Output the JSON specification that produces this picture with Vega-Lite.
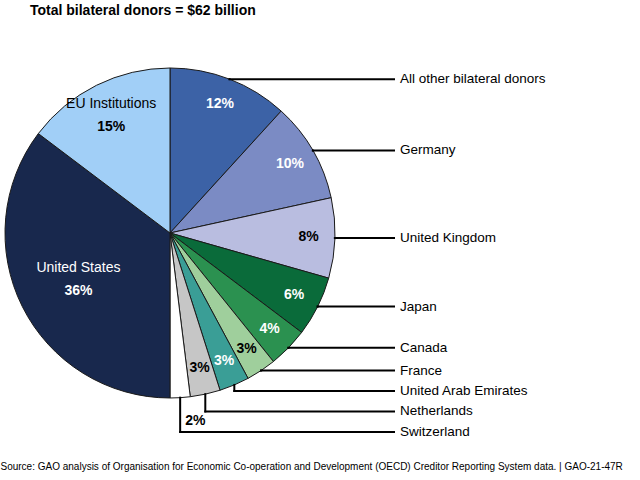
{
  "$schema": "https://vega.github.io/schema/vega-lite/v6.json",
  "width": 640,
  "height": 432,
  "padding": {"left": 0, "right": 0, "top": 4, "bottom": 2},
  "background": "white",
  "title": {
    "text": "Total bilateral donors = $62 billion",
    "anchor": "start",
    "dx": 30,
    "fontSize": 14,
    "fontWeight": "bold",
    "font": "Liberation Sans, Arial, sans-serif",
    "color": "black",
    "offset": 5
  },
  "data": {
    "values": [
      {"order": 1, "donor": "All other bilateral donors", "pct": 12},
      {"order": 2, "donor": "Germany", "pct": 10},
      {"order": 3, "donor": "United Kingdom", "pct": 8},
      {"order": 4, "donor": "Japan", "pct": 6},
      {"order": 5, "donor": "Canada", "pct": 4},
      {"order": 6, "donor": "France", "pct": 3},
      {"order": 7, "donor": "United Arab Emirates", "pct": 3},
      {"order": 8, "donor": "Netherlands", "pct": 3},
      {"order": 9, "donor": "Switzerland", "pct": 2},
      {"order": 10, "donor": "United States", "pct": 36},
      {"order": 11, "donor": "EU Institutions", "pct": 15}
    ]
  },
  "transform": [
    {"joinaggregate": [{"op": "sum", "field": "pct", "as": "total"}]},
    {"window": [{"op": "sum", "field": "pct", "as": "cum"}], "sort": [{"field": "order"}], "frame": [null, 0]},
    {"calculate": "2*PI*(datum.cum - datum.pct)/datum.total", "as": "a0"},
    {"calculate": "2*PI*datum.cum/datum.total", "as": "a1"},
    {"calculate": "(datum.a0 + datum.a1)/2", "as": "am"},
    {"calculate": "sin(datum.am)", "as": "ex"},
    {"calculate": "cos(datum.am)", "as": "ey"},
    {"calculate": "datum.pct + '%'", "as": "pl"}
  ],
  "layer": [
    {
      "mark": {"type": "arc", "outerRadius": 165, "stroke": "#1a1a1a", "strokeWidth": 1},
      "encoding": {
        "theta": {"field": "a0", "type": "quantitative", "scale": null},
        "theta2": {"field": "a1"},
        "x": {
          "datum": 0, "type": "quantitative",
          "scale": {"domain": [-1.030303, 2.848485], "nice": false, "zero": false},
          "axis": {"title": "Source: GAO analysis of Organisation for Economic Co-operation and Development (OECD) Creditor Reporting System data. | GAO-21-47R", "titleAnchor": "start", "titleAlign": "left", "titleFontWeight": "normal", "titleFontSize": 10, "titleFont": "Liberation Sans, Arial, sans-serif", "titleColor": "black", "titlePadding": 6, "labels": false, "ticks": false, "domain": false, "grid": false}
        },
        "y": {
          "datum": 0, "type": "quantitative",
          "scale": {"domain": [-1.345455, 1.272727], "nice": false, "zero": false},
          "axis": null
        },
        "color": {
          "field": "donor", "type": "nominal", "legend": null,
          "scale": {
            "domain": ["All other bilateral donors", "Germany", "United Kingdom", "Japan", "Canada", "France", "United Arab Emirates", "Netherlands", "Switzerland", "United States", "EU Institutions"],
            "range": ["#3c62a6", "#7b8bc4", "#b9bde0", "#0a6b3a", "#2b9150", "#9fcf9c", "#3a9e96", "#c6c6c6", "#ffffff", "#18284d", "#a1cff7"]
          }
        }
      }
    },
    {
      "transform": [
        {"filter": "datum.am < PI && datum.pct >= 2.5"},
        {"calculate": "0.84*sin(datum.am)", "as": "tx"},
        {"calculate": "0.84*cos(datum.am)", "as": "ty"}
      ],
      "mark": {"type": "text", "fontSize": 14, "fontWeight": "bold", "font": "Liberation Sans, Arial, sans-serif", "align": "center", "baseline": "middle"},
      "encoding": {
        "x": {"field": "tx", "type": "quantitative", "scale": {"domain": [-1.030303, 2.848485], "nice": false, "zero": false}, "axis": {"title": "Source: GAO analysis of Organisation for Economic Co-operation and Development (OECD) Creditor Reporting System data. | GAO-21-47R", "titleAnchor": "start", "titleAlign": "left", "titleFontWeight": "normal", "titleFontSize": 10, "titleFont": "Liberation Sans, Arial, sans-serif", "titleColor": "black", "titlePadding": 6, "labels": false, "ticks": false, "domain": false, "grid": false}},
        "y": {"field": "ty", "type": "quantitative", "scale": {"domain": [-1.345455, 1.272727], "nice": false, "zero": false}, "axis": null},
        "text": {"field": "pl"},
        "color": {"condition": {"test": "indexof(['United Kingdom','France','Netherlands','Switzerland','EU Institutions'], datum.donor) >= 0", "value": "black"}, "value": "white"}
      }
    },
    {
      "transform": [
        {"filter": "datum.am > PI"},
        {"calculate": "datum.pct > 30 ? 0.62 : 0.8", "as": "r"},
        {"calculate": "datum.r*sin(datum.am)", "as": "tx"},
        {"calculate": "datum.r*cos(datum.am)", "as": "ty"}
      ],
      "layer": [
        {
          "mark": {"type": "text", "fontSize": 14, "font": "Liberation Sans, Arial, sans-serif", "align": "center", "baseline": "middle", "dy": -11},
          "encoding": {
            "x": {"field": "tx", "type": "quantitative", "scale": {"domain": [-1.030303, 2.848485], "nice": false, "zero": false}, "axis": {"title": "Source: GAO analysis of Organisation for Economic Co-operation and Development (OECD) Creditor Reporting System data. | GAO-21-47R", "titleAnchor": "start", "titleAlign": "left", "titleFontWeight": "normal", "titleFontSize": 10, "titleFont": "Liberation Sans, Arial, sans-serif", "titleColor": "black", "titlePadding": 6, "labels": false, "ticks": false, "domain": false, "grid": false}},
            "y": {"field": "ty", "type": "quantitative", "scale": {"domain": [-1.345455, 1.272727], "nice": false, "zero": false}, "axis": null},
            "text": {"field": "donor"},
            "color": {"condition": {"test": "indexof(['United Kingdom','France','Netherlands','Switzerland','EU Institutions'], datum.donor) >= 0", "value": "black"}, "value": "white"}
          }
        },
        {
          "mark": {"type": "text", "fontSize": 14, "fontWeight": "bold", "font": "Liberation Sans, Arial, sans-serif", "align": "center", "baseline": "middle", "dy": 12},
          "encoding": {
            "x": {"field": "tx", "type": "quantitative", "scale": {"domain": [-1.030303, 2.848485], "nice": false, "zero": false}, "axis": {"title": "Source: GAO analysis of Organisation for Economic Co-operation and Development (OECD) Creditor Reporting System data. | GAO-21-47R", "titleAnchor": "start", "titleAlign": "left", "titleFontWeight": "normal", "titleFontSize": 10, "titleFont": "Liberation Sans, Arial, sans-serif", "titleColor": "black", "titlePadding": 6, "labels": false, "ticks": false, "domain": false, "grid": false}},
            "y": {"field": "ty", "type": "quantitative", "scale": {"domain": [-1.345455, 1.272727], "nice": false, "zero": false}, "axis": null},
            "text": {"field": "pl"},
            "color": {"condition": {"test": "indexof(['United Kingdom','France','Netherlands','Switzerland','EU Institutions'], datum.donor) >= 0", "value": "black"}, "value": "white"}
          }
        }
      ]
    },
    {
      "transform": [
        {"filter": "datum.am < PI"},
        {"window": [{"op": "row_number", "as": "i"}], "sort": [{"field": "order"}]},
        {"calculate": "datum.ey + 0.124*datum.i", "as": "t"},
        {"window": [{"op": "min", "field": "t", "as": "tmin"}], "sort": [{"field": "order"}], "frame": [null, 0]},
        {"calculate": "datum.tmin - 0.124*datum.i", "as": "ly"}
      ],
      "layer": [
        {
          "mark": {"type": "rule", "color": "black", "strokeWidth": 2, "strokeCap": "square"},
          "encoding": {
            "x": {"field": "ex", "type": "quantitative", "scale": {"domain": [-1.030303, 2.848485], "nice": false, "zero": false}, "axis": {"title": "Source: GAO analysis of Organisation for Economic Co-operation and Development (OECD) Creditor Reporting System data. | GAO-21-47R", "titleAnchor": "start", "titleAlign": "left", "titleFontWeight": "normal", "titleFontSize": 10, "titleFont": "Liberation Sans, Arial, sans-serif", "titleColor": "black", "titlePadding": 6, "labels": false, "ticks": false, "domain": false, "grid": false}},
            "y": {"field": "ey", "type": "quantitative", "scale": {"domain": [-1.345455, 1.272727], "nice": false, "zero": false}, "axis": null},
            "y2": {"field": "ly"}
          }
        },
        {
          "mark": {"type": "rule", "color": "black", "strokeWidth": 2, "strokeCap": "square"},
          "encoding": {
            "x": {"field": "ex", "type": "quantitative", "scale": {"domain": [-1.030303, 2.848485], "nice": false, "zero": false}, "axis": {"title": "Source: GAO analysis of Organisation for Economic Co-operation and Development (OECD) Creditor Reporting System data. | GAO-21-47R", "titleAnchor": "start", "titleAlign": "left", "titleFontWeight": "normal", "titleFontSize": 10, "titleFont": "Liberation Sans, Arial, sans-serif", "titleColor": "black", "titlePadding": 6, "labels": false, "ticks": false, "domain": false, "grid": false}},
            "x2": {"datum": 1.357576},
            "y": {"field": "ly", "type": "quantitative", "scale": {"domain": [-1.345455, 1.272727], "nice": false, "zero": false}, "axis": null}
          }
        },
        {
          "mark": {"type": "text", "fontSize": 13.5, "font": "Liberation Sans, Arial, sans-serif", "align": "left", "baseline": "middle", "color": "black"},
          "encoding": {
            "x": {"datum": 1.393939, "type": "quantitative", "scale": {"domain": [-1.030303, 2.848485], "nice": false, "zero": false}, "axis": {"title": "Source: GAO analysis of Organisation for Economic Co-operation and Development (OECD) Creditor Reporting System data. | GAO-21-47R", "titleAnchor": "start", "titleAlign": "left", "titleFontWeight": "normal", "titleFontSize": 10, "titleFont": "Liberation Sans, Arial, sans-serif", "titleColor": "black", "titlePadding": 6, "labels": false, "ticks": false, "domain": false, "grid": false}},
            "y": {"field": "ly", "type": "quantitative", "scale": {"domain": [-1.345455, 1.272727], "nice": false, "zero": false}, "axis": null},
            "text": {"field": "donor"}
          }
        },
        {
          "transform": [{"filter": "datum.pct < 2.5"}],
          "mark": {"type": "text", "fontSize": 14, "fontWeight": "bold", "font": "Liberation Sans, Arial, sans-serif", "align": "left", "baseline": "middle", "color": "black", "dx": 5, "dy": -11},
          "encoding": {
            "x": {"field": "ex", "type": "quantitative", "scale": {"domain": [-1.030303, 2.848485], "nice": false, "zero": false}, "axis": {"title": "Source: GAO analysis of Organisation for Economic Co-operation and Development (OECD) Creditor Reporting System data. | GAO-21-47R", "titleAnchor": "start", "titleAlign": "left", "titleFontWeight": "normal", "titleFontSize": 10, "titleFont": "Liberation Sans, Arial, sans-serif", "titleColor": "black", "titlePadding": 6, "labels": false, "ticks": false, "domain": false, "grid": false}},
            "y": {"field": "ly", "type": "quantitative", "scale": {"domain": [-1.345455, 1.272727], "nice": false, "zero": false}, "axis": null},
            "text": {"field": "pl"}
          }
        }
      ]
    }
  ],
  "config": {"view": {"stroke": null}}
}
